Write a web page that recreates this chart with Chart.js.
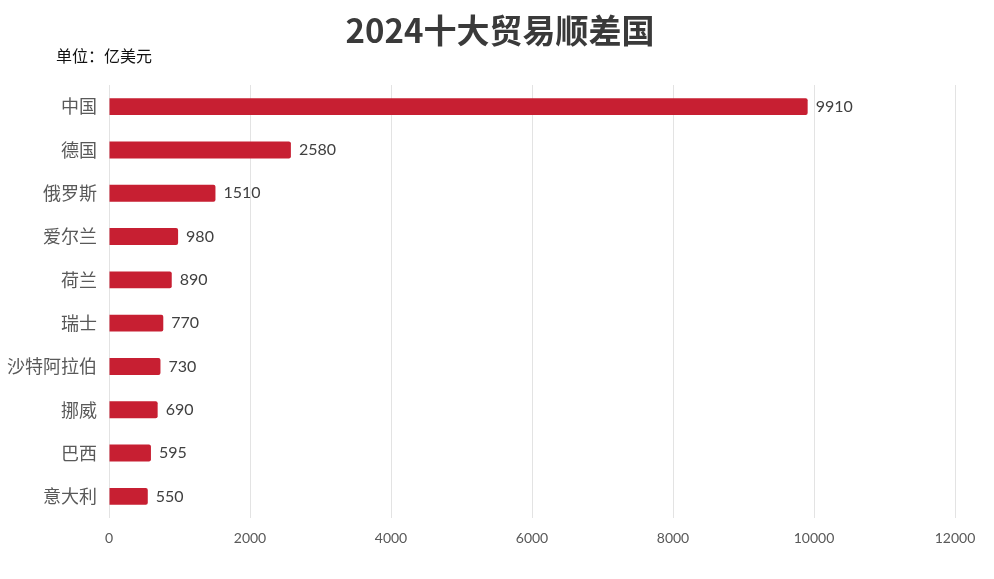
<!DOCTYPE html>
<html>
<head>
<meta charset="utf-8">
<script src="https://cdn.jsdelivr.net/npm/chart.js@4"></script>
<style>
  html, body { margin: 0; padding: 0; background: #fff; }
  #wrap { width: 994px; height: 579px; }
</style>
</head>
<body>
<div id="wrap"><canvas id="surplus"></canvas></div>
<script>
// 国名と貿易黒字（億ドル）
const countries = ['中国', '德国', '俄罗斯', '爱尔兰', '荷兰', '瑞士', '沙特阿拉伯', '挪威', '巴西', '意大利'];
const surplus = [9910, 2580, 1510, 980, 890, 770, 730, 690, 595, 550];
const xTicks = [0, 2000, 4000, 6000, 8000, 10000, 12000];

const titleText = '2024十大贸易顺差国';
const unitText = '单位：亿美元';
const cjk = '"Noto Sans CJK SC", "Noto Sans", sans-serif';
const num = 'Lato, "Noto Sans CJK SC", sans-serif';

// タイトルと単位、棒の右側の数値を描く
const decorations = {
    id: 'decorations',
    afterDatasetsDraw(chart) {
        const ctx = chart.ctx;
        const meta = chart.getDatasetMeta(0);
        ctx.save();
        ctx.font = '16px ' + num;
        ctx.fillStyle = '#404040';
        ctx.textAlign = 'left';
        ctx.textBaseline = 'middle';
        meta.data.forEach((bar, i) => {
            ctx.fillText(String(surplus[i]), bar.x + 8, bar.y);
        });
        ctx.restore();
    },
    afterDraw(chart) {
        const ctx = chart.ctx;
        ctx.save();
        ctx.textBaseline = 'middle';
        ctx.fillStyle = '#3a3a3a';
        ctx.textAlign = 'center';
        ctx.font = 'bold 33px ' + cjk;
        ctx.fillText(titleText, 500, 30);
        ctx.fillStyle = '#111';
        ctx.textAlign = 'left';
        ctx.font = '16px ' + cjk;
        ctx.fillText(unitText, 56, 56);
        ctx.restore();
    }
};

const config = {
    type: 'bar',
    data: {
        labels: countries,
        datasets: [{
            data: surplus,
            backgroundColor: '#c71f32',
            borderRadius: 2,
            borderSkipped: 'start',
            barPercentage: 0.39,
            categoryPercentage: 1
        }]
    },
    options: {
        indexAxis: 'y',
        responsive: false,
        animation: false,
        layout: { padding: { top: 85, right: 39, bottom: 0, left: 0 } },
        plugins: {
            legend: { display: false },
            tooltip: { enabled: false }
        },
        scales: {
            x: {
                min: 0,
                max: 12000,
                afterBuildTicks(axis) {
                    axis.ticks = xTicks.map(v => ({ value: v }));
                },
                afterFit(axis) { axis.height = 61; },
                grid: { color: '#e3e3e3', drawTicks: false },
                border: { display: false },
                ticks: {
                    padding: 12,
                    color: '#595959',
                    font: { family: num, size: 14 },
                    callback: value => String(value)
                }
            },
            y: {
                afterFit(axis) { axis.width = 109; },
                grid: { display: false, drawTicks: false },
                border: { display: false },
                ticks: {
                    padding: 12,
                    color: '#595959',
                    font: { family: cjk, size: 18 }
                }
            }
        }
    },
    plugins: [decorations]
};

const canvas = document.querySelector('#surplus');
canvas.width = 994;
canvas.height = 579;
new Chart(canvas, config);
</script>
</body>
</html>
